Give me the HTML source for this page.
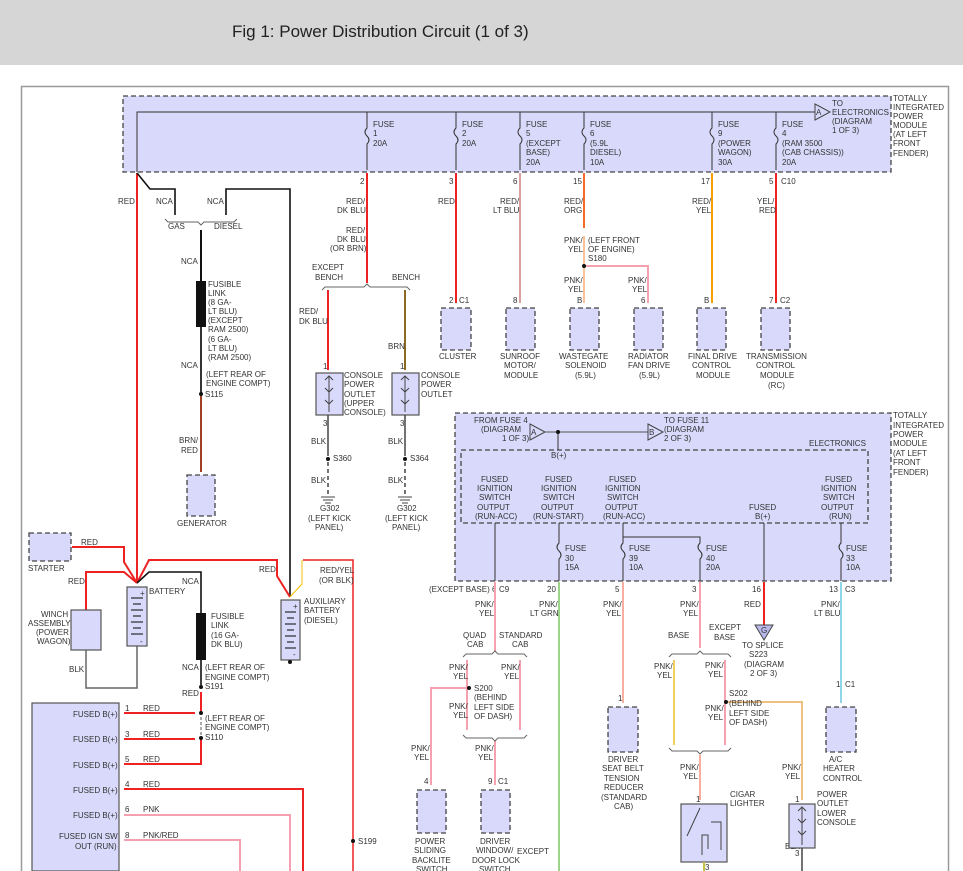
<!DOCTYPE html>
<html><head><meta charset="utf-8"><style>
body{margin:0;background:#fff;width:963px;height:871px;overflow:hidden;font-family:"Liberation Sans",sans-serif}
.hdr{position:absolute;left:0;top:0;width:963px;height:65px;background:#d6d6d6}
.hdr span{position:absolute;left:232px;top:22px;font-size:17px;color:#222}
svg{position:absolute;left:0;top:0}
text{font-family:"Liberation Sans",sans-serif;font-size:8px;fill:#333}
.b{fill:#d9d9fb;stroke:#444;stroke-width:1.3;stroke-dasharray:5,3}
.s{fill:#d9d9fb;stroke:#555;stroke-width:1.2}
</style></head><body>
<div class="hdr"><span>Fig 1: Power Distribution Circuit (1 of 3)</span></div>
<svg width="963" height="871" viewBox="0 0 963 871">
<rect x="21.5" y="86.5" width="927" height="800" fill="none" stroke="#999" stroke-width="1.5"/>
<!-- top module -->
<rect class="b" x="123" y="96" width="768" height="76"/>
<polyline points="137,172 137,112 815,112" fill="none" stroke="#333" stroke-width="1"/>
<polygon points="815,104 815,120 830,112" fill="#d9d9fb" stroke="#444"/><text x="816" y="115" font-size="7">A</text>
<g stroke="#333" stroke-width="1" fill="none">
<path d="M367,112v16q-4,4 0,8q4,4 0,8v26"/><path d="M456,112v16q-4,4 0,8q4,4 0,8v26"/><path d="M520,112v16q-4,4 0,8q4,4 0,8v26"/><path d="M584,112v16q-4,4 0,8q4,4 0,8v26"/><path d="M712,112v16q-4,4 0,8q4,4 0,8v26"/><path d="M776,112v16q-4,4 0,8q4,4 0,8v26"/>
</g>
<g>
<text x="373" y="127">FUSE</text><text x="373" y="136">1</text><text x="373" y="146">20A</text>
<text x="462" y="127">FUSE</text><text x="462" y="136">2</text><text x="462" y="146">20A</text>
<text x="526" y="127">FUSE</text><text x="526" y="136">5</text><text x="526" y="146">(EXCEPT</text><text x="526" y="155">BASE)</text><text x="526" y="165">20A</text>
<text x="590" y="127">FUSE</text><text x="590" y="136">6</text><text x="590" y="146">(5.9L</text><text x="590" y="155">DIESEL)</text><text x="590" y="165">10A</text>
<text x="718" y="127">FUSE</text><text x="718" y="136">9</text><text x="718" y="146">(POWER</text><text x="718" y="155">WAGON)</text><text x="718" y="165">30A</text>
<text x="782" y="127">FUSE</text><text x="782" y="136">4</text><text x="782" y="146">(RAM 3500</text><text x="782" y="155">(CAB CHASSIS))</text><text x="782" y="165">20A</text>
<text x="832" y="106">TO</text><text x="832" y="115">ELECTRONICS</text><text x="832" y="124">(DIAGRAM</text><text x="832" y="133">1 OF 3)</text>
<text x="893" y="101">TOTALLY</text><text x="893" y="110">INTEGRATED</text><text x="893" y="119">POWER</text><text x="893" y="128">MODULE</text><text x="893" y="137">(AT LEFT</text><text x="893" y="146">FRONT</text><text x="893" y="156">FENDER)</text>
</g>
<!-- top pins -->
<g><text x="360" y="184">2</text><text x="449" y="184">3</text><text x="513" y="184">6</text><text x="573" y="184">15</text><text x="701" y="184">17</text><text x="769" y="184">5</text><text x="781" y="184">C10</text></g>
<!-- wires down from top module -->
<g fill="none" stroke-width="2">
<line x1="367" y1="173" x2="367" y2="283" stroke="#e22"/>
<line x1="456" y1="173" x2="456" y2="303" stroke="#e22"/>
<line x1="520" y1="173" x2="520" y2="303" stroke="#d9a0a0"/>
<line x1="584" y1="173" x2="584" y2="228" stroke="#f46a2a"/>
<line x1="584" y1="236" x2="584" y2="303" stroke="#f8c39a"/>
<polyline points="584,266 648,266 648,303" stroke="#f7a0b0"/>
<line x1="712" y1="173" x2="712" y2="303" stroke="#f5a000"/>
<line x1="776" y1="173" x2="776" y2="303" stroke="#e22"/>
<line x1="137" y1="173" x2="137" y2="583" stroke="#e22"/>
<line x1="328" y1="290" x2="328" y2="370" stroke="#e22"/>
<line x1="405" y1="290" x2="405" y2="370" stroke="#8b6a20"/>
<line x1="201" y1="230" x2="201" y2="285" stroke="#111"/>
<line x1="201" y1="327" x2="201" y2="395" stroke="#333"/>
<line x1="201" y1="395" x2="201" y2="472" stroke="#a04020"/>
</g>
<circle cx="584" cy="266" r="2" fill="#111"/>
<g fill="none" stroke="#111" stroke-width="1.6">
<polyline points="137,173 150,189 175,189 175,215"/>
<polyline points="226,215 226,189 290,189 290,597"/>
</g>
<rect x="196" y="281" width="10" height="46" fill="#111"/>
<!-- braces -->
<g fill="none" stroke="#666" stroke-width="1">
<path d="M165,219l3,3h30l3,3l3,-3h30l3,-3"/>
<path d="M322,290l3,-3h39l3,-3l3,3h37l3,3"/>
</g>
<g>
<text x="118" y="204">RED</text><text x="156" y="204">NCA</text><text x="207" y="204">NCA</text>
<text x="168" y="229">GAS</text><text x="214" y="229">DIESEL</text>
<text x="181" y="264">NCA</text>
<text x="208" y="287">FUSIBLE</text><text x="208" y="296">LINK</text><text x="208" y="305">(8 GA-</text><text x="208" y="314">LT BLU)</text><text x="208" y="323">(EXCEPT</text><text x="208" y="332">RAM 2500)</text><text x="208" y="342">(6 GA-</text><text x="208" y="351">LT BLU)</text><text x="208" y="360">(RAM 2500)</text>
<text x="181" y="368">NCA</text><text x="206" y="377">(LEFT REAR OF</text><text x="206" y="386">ENGINE COMPT)</text><text x="205" y="397">S115</text>
<text x="179" y="443">BRN/</text><text x="181" y="453">RED</text>
<text x="177" y="526">GENERATOR</text>
<text x="346" y="204">RED/</text><text x="337" y="213">DK BLU</text>
<text x="346" y="233">RED/</text><text x="337" y="242">DK BLU</text><text x="330" y="251">(OR BRN)</text>
<text x="312" y="270">EXCEPT</text><text x="315" y="280">BENCH</text><text x="392" y="280">BENCH</text>
<text x="299" y="314">RED/</text><text x="299" y="324">DK BLU</text>
<text x="388" y="349">BRN</text>
<text x="323" y="369">1</text><text x="400" y="369">1</text>
<text x="344" y="378">CONSOLE</text><text x="344" y="387">POWER</text><text x="344" y="397">OUTLET</text><text x="344" y="406">(UPPER</text><text x="344" y="415">CONSOLE)</text>
<text x="421" y="378">CONSOLE</text><text x="421" y="387">POWER</text><text x="421" y="397">OUTLET</text>
<text x="323" y="426">3</text><text x="400" y="426">3</text>
<text x="311" y="444">BLK</text><text x="388" y="444">BLK</text>
<text x="333" y="461">S360</text><text x="410" y="461">S364</text>
<text x="311" y="483">BLK</text><text x="388" y="483">BLK</text>
<text x="320" y="511">G302</text><text x="308" y="521">(LEFT KICK</text><text x="315" y="530">PANEL)</text>
<text x="397" y="511">G302</text><text x="385" y="521">(LEFT KICK</text><text x="392" y="530">PANEL)</text>
<text x="438" y="204">RED</text>
<text x="500" y="204">RED/</text><text x="493" y="213">LT BLU</text>
<text x="564" y="204">RED/</text><text x="564" y="213">ORG</text>
<text x="564" y="243">PNK/</text><text x="568" y="252">YEL</text>
<text x="588" y="243">(LEFT FRONT</text><text x="588" y="252">OF ENGINE)</text><text x="588" y="261">S180</text>
<text x="564" y="283">PNK/</text><text x="568" y="292">YEL</text>
<text x="628" y="283">PNK/</text><text x="632" y="292">YEL</text>
<text x="692" y="204">RED/</text><text x="696" y="213">YEL</text>
<text x="757" y="204">YEL/</text><text x="759" y="213">RED</text>
<text x="449" y="303">2</text><text x="459" y="303">C1</text>
<text x="513" y="303">8</text><text x="577" y="303">B</text><text x="641" y="303">6</text><text x="704" y="303">B</text><text x="769" y="303">7</text><text x="780" y="303">C2</text>
<text x="439" y="359">CLUSTER</text>
<text x="500" y="359">SUNROOF</text><text x="504" y="368">MOTOR/</text><text x="504" y="378">MODULE</text>
<text x="559" y="359">WASTEGATE</text><text x="565" y="368">SOLENOID</text><text x="575" y="378">(5.9L)</text>
<text x="628" y="359">RADIATOR</text><text x="628" y="368">FAN DRIVE</text><text x="639" y="378">(5.9L)</text>
<text x="688" y="359">FINAL DRIVE</text><text x="692" y="368">CONTROL</text><text x="696" y="378">MODULE</text>
<text x="746" y="359">TRANSMISSION</text><text x="756" y="368">CONTROL</text><text x="760" y="378">MODULE</text><text x="768" y="388">(RC)</text>
</g>
<g>
<rect class="b" x="187" y="475" width="28" height="41"/>
<rect class="b" x="441" y="308" width="30" height="42"/>
<rect class="b" x="506" y="308" width="29" height="42"/>
<rect class="b" x="570" y="308" width="29" height="42"/>
<rect class="b" x="634" y="308" width="29" height="42"/>
<rect class="b" x="697" y="308" width="29" height="42"/>
<rect class="b" x="761" y="308" width="29" height="42"/>
<rect class="s" x="316" y="373" width="27" height="42"/>
<rect class="s" x="392" y="373" width="27" height="42"/>
</g>
<g stroke="#444" fill="none" stroke-width="1">
<path d="M329,376v36M325,380l4,-4l4,4M325,388l4,4l4,-4M325,400l4,4l4,-4"/>
<path d="M405,376v36M401,380l4,-4l4,4M401,388l4,4l4,-4M401,400l4,4l4,-4"/>
<line x1="328" y1="415" x2="328" y2="456" stroke-width="1.5"/><line x1="328" y1="462" x2="328" y2="497" stroke-dasharray="4,3" stroke-width="1.5"/>
<line x1="405" y1="415" x2="405" y2="456" stroke-width="1.5"/><line x1="405" y1="462" x2="405" y2="497" stroke-dasharray="4,3" stroke-width="1.5"/>
<path d="M321,497h14M323,500h10M325,503h6M398,497h14M400,500h10M402,503h6"/>
</g>
<circle cx="328" cy="459" r="2" fill="#111"/><circle cx="405" cy="459" r="2" fill="#111"/><circle cx="201" cy="394" r="2" fill="#111"/>
<!-- lower module -->
<rect class="b" x="455" y="413" width="436" height="168"/>
<rect class="b" x="461" y="450" width="407" height="73" fill="#cdcdf7"/>
<polygon points="530,424 530,440 545,432" fill="#d9d9fb" stroke="#444"/><text x="531" y="435" font-size="7">A</text>
<line x1="545" y1="432" x2="648" y2="432" stroke="#555"/>
<polygon points="648,424 648,440 663,432" fill="#d9d9fb" stroke="#444"/><text x="649" y="435" font-size="7">B</text>
<line x1="558" y1="432" x2="558" y2="450" stroke="#333"/><circle cx="558" cy="432" r="2" fill="#111"/>
<g>
<text x="474" y="423">FROM FUSE 4</text><text x="481" y="432">(DIAGRAM</text><text x="502" y="441">1 OF 3)</text>
<text x="664" y="423">TO FUSE 11</text><text x="664" y="432">(DIAGRAM</text><text x="664" y="441">2 OF 3)</text>
<text x="809" y="446">ELECTRONICS</text><text x="551" y="458">B(+)</text>
<text x="893" y="418">TOTALLY</text><text x="893" y="428">INTEGRATED</text><text x="893" y="437">POWER</text><text x="893" y="446">MODULE</text><text x="893" y="456">(AT LEFT</text><text x="893" y="465">FRONT</text><text x="893" y="475">FENDER)</text>
<text x="481" y="482">FUSED</text><text x="477" y="491">IGNITION</text><text x="479" y="500">SWITCH</text><text x="477" y="510">OUTPUT</text><text x="475" y="519">(RUN-ACC)</text>
<text x="545" y="482">FUSED</text><text x="541" y="491">IGNITION</text><text x="543" y="500">SWITCH</text><text x="541" y="510">OUTPUT</text><text x="533" y="519">(RUN-START)</text>
<text x="609" y="482">FUSED</text><text x="605" y="491">IGNITION</text><text x="607" y="500">SWITCH</text><text x="605" y="510">OUTPUT</text><text x="603" y="519">(RUN-ACC)</text>
<text x="749" y="510">FUSED</text><text x="755" y="519">B(+)</text>
<text x="825" y="482">FUSED</text><text x="821" y="491">IGNITION</text><text x="823" y="500">SWITCH</text><text x="821" y="510">OUTPUT</text><text x="829" y="519">(RUN)</text>
<text x="565" y="551">FUSE</text><text x="565" y="561">30</text><text x="565" y="570">15A</text>
<text x="629" y="551">FUSE</text><text x="629" y="561">39</text><text x="629" y="570">10A</text>
<text x="706" y="551">FUSE</text><text x="706" y="561">40</text><text x="706" y="570">20A</text>
<text x="846" y="551">FUSE</text><text x="846" y="561">33</text><text x="846" y="570">10A</text>
</g>
<g stroke="#333" fill="none" stroke-width="1">
<line x1="495" y1="523" x2="495" y2="581"/>
<path d="M559,523v20q-4,4 0,8q4,4 0,8v22"/>
<path d="M623,523v20q-4,4 0,8q4,4 0,8v22"/>
<path d="M623,537h77v6q-4,4 0,8q4,4 0,8v22"/>
<line x1="764" y1="523" x2="764" y2="581"/>
<path d="M841,523v20q-4,4 0,8q4,4 0,8v22"/>
</g>
<g><text x="429" y="592">(EXCEPT BASE) 6</text><text x="499" y="592">C9</text><text x="547" y="592">20</text><text x="615" y="592">5</text><text x="692" y="592">3</text><text x="752" y="592">16</text><text x="829" y="592">13</text><text x="845" y="592">C3</text></g>
<!-- lower wires -->
<g fill="none" stroke-width="2">
<line x1="495" y1="582" x2="495" y2="652" stroke="#f7a0b0"/>
<line x1="559" y1="582" x2="559" y2="871" stroke="#9bd58a"/>
<line x1="623" y1="582" x2="623" y2="703" stroke="#f7b0a0"/>
<line x1="700" y1="582" x2="700" y2="648" stroke="#f7a0b0"/>
<line x1="764" y1="582" x2="764" y2="625" stroke="#e22"/>
<line x1="841" y1="582" x2="841" y2="703" stroke="#8fd6e8"/>
<line x1="467" y1="660" x2="467" y2="730" stroke="#f7a0b0"/>
<polyline points="469,688 431,688 431,785" stroke="#f7a0b0"/>
<line x1="520" y1="660" x2="520" y2="730" stroke="#f7a0b0"/>
<line x1="495" y1="740" x2="495" y2="785" stroke="#f7a0b0"/>
<line x1="674" y1="660" x2="674" y2="745" stroke="#f0d060"/>
<line x1="725" y1="660" x2="725" y2="745" stroke="#f7a0b0"/>
<polyline points="726,702 802,702 802,800" stroke="#f0c080"/>
<line x1="700" y1="755" x2="700" y2="800" stroke="#f7b0a0"/>
</g>
<circle cx="469" cy="688" r="2" fill="#111"/><circle cx="726" cy="702" r="2" fill="#111"/>
<g fill="none" stroke="#666">
<path d="M463,657l3,-3h26l3,-3l3,3h26l3,3"/>
<path d="M463,735l3,3h26l3,3l3,-3h26l3,-3"/>
<path d="M669,657l3,-3h25l3,-3l3,3h25l3,3"/>
<path d="M669,748l3,3h25l3,3l3,-3h25l3,-3"/>
</g>
<polygon points="755,625 773,625 764,640" fill="#b8b8ea" stroke="#444"/><text x="761" y="633" font-size="7">G</text>
<g>
<text x="475" y="607">PNK/</text><text x="479" y="616">YEL</text>
<text x="539" y="607">PNK/</text><text x="530" y="616">LT GRN</text>
<text x="603" y="607">PNK/</text><text x="606" y="616">YEL</text>
<text x="680" y="607">PNK/</text><text x="683" y="616">YEL</text>
<text x="744" y="607">RED</text>
<text x="821" y="607">PNK/</text><text x="814" y="616">LT BLU</text>
<text x="463" y="638">QUAD</text><text x="467" y="647">CAB</text><text x="499" y="638">STANDARD</text><text x="512" y="647">CAB</text>
<text x="449" y="670">PNK/</text><text x="453" y="679">YEL</text><text x="501" y="670">PNK/</text><text x="504" y="679">YEL</text>
<text x="474" y="691">S200</text><text x="474" y="700">(BEHIND</text><text x="474" y="710">LEFT SIDE</text><text x="474" y="719">OF DASH)</text>
<text x="449" y="709">PNK/</text><text x="453" y="718">YEL</text>
<text x="411" y="751">PNK/</text><text x="414" y="760">YEL</text><text x="475" y="751">PNK/</text><text x="478" y="760">YEL</text>
<text x="424" y="784">4</text><text x="488" y="784">9</text><text x="498" y="784">C1</text>
<text x="415" y="844">POWER</text><text x="414" y="853">SLIDING</text><text x="412" y="863">BACKLITE</text><text x="416" y="872">SWITCH</text>
<text x="480" y="844">DRIVER</text><text x="476" y="853">WINDOW/</text><text x="472" y="863">DOOR LOCK</text><text x="479" y="872">SWITCH</text>
<text x="517" y="854">EXCEPT</text>
<text x="618" y="701">1</text>
<text x="608" y="762">DRIVER</text><text x="602" y="771">SEAT BELT</text><text x="604" y="781">TENSION</text><text x="604" y="790">REDUCER</text><text x="601" y="800">(STANDARD</text><text x="614" y="809">CAB)</text>
<text x="668" y="638">BASE</text><text x="709" y="630">EXCEPT</text><text x="714" y="640">BASE</text>
<text x="654" y="669">PNK/</text><text x="657" y="678">YEL</text><text x="705" y="668">PNK/</text><text x="708" y="677">YEL</text>
<text x="729" y="696">S202</text><text x="729" y="706">(BEHIND</text><text x="729" y="716">LEFT SIDE</text><text x="729" y="725">OF DASH)</text>
<text x="705" y="711">PNK/</text><text x="708" y="720">YEL</text>
<text x="680" y="770">PNK/</text><text x="683" y="779">YEL</text>
<text x="782" y="770">PNK/</text><text x="785" y="779">YEL</text>
<text x="742" y="648">TO SPLICE</text><text x="749" y="657">S223</text><text x="744" y="667">(DIAGRAM</text><text x="750" y="676">2 OF 3)</text>
<text x="696" y="802">1</text><text x="795" y="802">1</text>
<text x="730" y="797">CIGAR</text><text x="730" y="806">LIGHTER</text>
<text x="817" y="797">POWER</text><text x="817" y="806">OUTLET</text><text x="817" y="816">LOWER</text><text x="817" y="825">CONSOLE</text>
<text x="705" y="870">3</text><text x="795" y="856">3</text><text x="785" y="849">BLK</text>
<text x="836" y="687">1</text><text x="845" y="687">C1</text>
<text x="829" y="762">A/C</text><text x="823" y="771">HEATER</text><text x="823" y="781">CONTROL</text>
</g>
<rect class="b" x="417" y="790" width="29" height="43"/>
<rect class="b" x="481" y="790" width="29" height="43"/>
<rect class="b" x="608" y="707" width="30" height="45"/>
<rect class="b" x="826" y="707" width="30" height="45"/>
<rect class="s" x="681" y="804" width="46" height="58"/>
<rect class="s" x="789" y="804" width="26" height="44"/>
<g stroke="#444" fill="none">
<path d="M700,808l-13,28M711,822h10v28M702,855v-20h6v14"/>
<path d="M802,807v38M798,811l4,-4l4,4M798,819l4,4l4,-4M798,831l4,4l4,-4"/>
<line x1="802" y1="848" x2="802" y2="871" stroke-width="1.5"/>
<line x1="704" y1="862" x2="704" y2="871" stroke="#c8c040" stroke-width="2"/>
</g>
<!-- bottom-left section -->
<rect class="b" x="29" y="533" width="42" height="28"/>
<text x="28" y="571">STARTER</text>
<g fill="none" stroke="#e22" stroke-width="2">
<polyline points="72,547 124,547 124,562 137,583"/>
<polyline points="86,610 86,572 124,572 137,583"/>
<polyline points="137,583 149,560 277,560 277,576 290,597"/>
<line x1="201" y1="692" x2="201" y2="712"/>
<polyline points="201,738 201,764 124,764"/>
<line x1="124" y1="713" x2="195" y2="713"/>
<line x1="124" y1="739" x2="195" y2="739"/>
<polyline points="124,789 303,789 303,871"/>
<polyline points="303,560 353,560 353,871" stroke="#e22" stroke-width="1.5"/>
</g>
<polyline points="290,597 302,584 302,560" fill="none" stroke="#f5c000" stroke-width="1"/>
<g fill="none" stroke="#f5a0b0" stroke-width="2">
<polyline points="124,815 290,815 290,871"/>
<polyline points="124,840 240,840 240,871"/>
</g>
<g fill="none" stroke="#111" stroke-width="1.6">
<polyline points="137,583 149,572 201,572 201,613"/>
<line x1="201" y1="660" x2="201" y2="685"/>
</g>
<line x1="201" y1="712" x2="201" y2="738" stroke="#555" stroke-dasharray="3,2"/>
<polyline points="86,650 86,688 137,688 137,646" fill="none" stroke="#666" stroke-width="1.5"/>
<rect x="196" y="613" width="10" height="47" fill="#111"/>
<rect class="s" x="71" y="610" width="30" height="40"/>
<rect class="s" x="127" y="587" width="20" height="59"/>
<rect class="s" x="281" y="600" width="19" height="60"/>
<g stroke="#333" stroke-width="1.2">
<path d="M131,598h12M133,604h8M131,610h12M133,616h8M131,622h12M133,628h8M131,634h12"/>
<path d="M285,612h11M287,618h7M285,624h11M287,630h7M285,636h11M287,642h7M285,648h11"/>
</g>
<text x="140" y="596" font-size="7">+</text><text x="140" y="644" font-size="7">-</text>
<text x="293" y="609" font-size="7">+</text><text x="293" y="657" font-size="7">-</text>
<circle cx="290" cy="662" r="2" fill="#111"/><circle cx="201" cy="687" r="2" fill="#111"/><circle cx="201" cy="713" r="2" fill="#111"/><circle cx="201" cy="738" r="2" fill="#111"/><circle cx="353" cy="841" r="2" fill="#111"/>
<g>
<text x="81" y="545">RED</text><text x="68" y="584">RED</text>
<text x="149" y="594">BATTERY</text><text x="182" y="584">NCA</text>
<text x="259" y="572">RED</text><text x="320" y="573">RED/YEL</text><text x="319" y="583">(OR BLK)</text>
<text x="304" y="604">AUXILIARY</text><text x="304" y="613">BATTERY</text><text x="304" y="623">(DIESEL)</text>
<text x="41" y="617">WINCH</text><text x="28" y="626">ASSEMBLY</text><text x="36" y="635">(POWER</text><text x="37" y="644">WAGON)</text>
<text x="69" y="672">BLK</text>
<text x="211" y="619">FUSIBLE</text><text x="211" y="628">LINK</text><text x="211" y="638">(16 GA-</text><text x="211" y="647">DK BLU)</text>
<text x="182" y="670">NCA</text><text x="205" y="670">(LEFT REAR OF</text><text x="205" y="680">ENGINE COMPT)</text><text x="205" y="689">S191</text>
<text x="182" y="696">RED</text>
<text x="205" y="721">(LEFT REAR OF</text><text x="205" y="730">ENGINE COMPT)</text><text x="205" y="740">S110</text>
<text x="358" y="844">S199</text>
</g>
<rect x="32" y="703" width="87" height="168" fill="#d9d9fb" stroke="#555" stroke-width="1.2"/>
<g>
<text x="73" y="717">FUSED B(+)</text><text x="73" y="742">FUSED B(+)</text><text x="73" y="768">FUSED B(+)</text><text x="73" y="793">FUSED B(+)</text><text x="73" y="818">FUSED B(+)</text>
<text x="59" y="839">FUSED IGN SW</text><text x="75" y="849">OUT (RUN)</text>
<text x="125" y="711">1</text><text x="143" y="711">RED</text>
<text x="125" y="737">3</text><text x="143" y="737">RED</text>
<text x="125" y="762">5</text><text x="143" y="762">RED</text>
<text x="125" y="787">4</text><text x="143" y="787">RED</text>
<text x="125" y="812">6</text><text x="143" y="812">PNK</text>
<text x="125" y="838">8</text><text x="143" y="838">PNK/RED</text>
</g>
</svg>
</body></html>
